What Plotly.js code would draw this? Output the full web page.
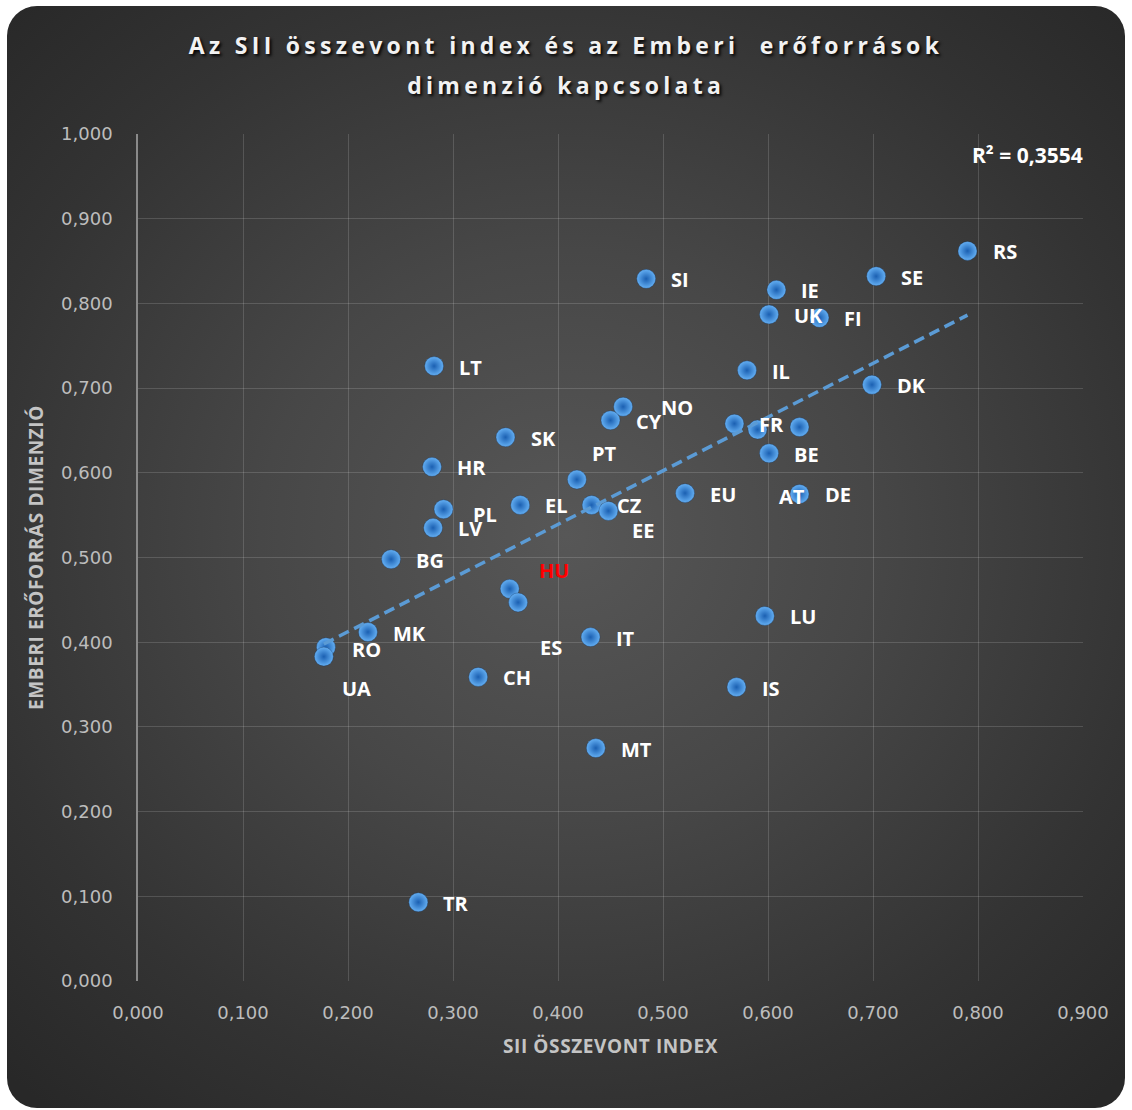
<!DOCTYPE html>
<html>
<head>
<meta charset="utf-8">
<script src="https://cdn.plot.ly/plotly-3.0.1.min.js"></script>
<style>
  html, body { margin: 0; padding: 0; background: #ffffff; }
  #frame {
    position: absolute; left: 7px; top: 6px; width: 1118px; height: 1102px;
    border-radius: 30px; overflow: hidden;
    background: radial-gradient(ellipse 72% 68% at 50% 48%, #575757 0%, #474747 38%, #333333 75%, #282828 100%);
  }
  #chart { position: absolute; left: -7px; top: -6px; width: 1132px; height: 1110px; }
  .gtitle, .annotation[data-index="0"] .annotation-text { letter-spacing: 4.3px; }
  .xtitle, .ytitle { letter-spacing: 0.6px; }
</style>
</head>
<body>
<div id="frame"><div id="chart"></div></div>
<script>
// Country codes with their SII composite index (x) and human resources dimension (y)
const countries = ['RS','SE','SI','IE','UK','FI','LT','IL','DK','NO','CY','SK','FR','AT','NL','BE','HR','PT','EU',
                   'DE','PL','EL','CZ','EE','LV','BG','HU','ES','LU','IT','MK','RO','UA','CH','IS','MT','TR'];
const siiIndex = [0.790, 0.703, 0.484, 0.608, 0.601, 0.649, 0.282, 0.580, 0.699, 0.462, 0.450, 0.350, 0.568, 0.590, 0.630, 0.601, 0.280, 0.418, 0.521,
                  0.630, 0.291, 0.364, 0.432, 0.448, 0.281, 0.241, 0.354, 0.362, 0.597, 0.431, 0.219, 0.179, 0.177, 0.324, 0.570, 0.436, 0.267];
const humanResources = [0.862, 0.832, 0.829, 0.816, 0.787, 0.783, 0.726, 0.721, 0.704, 0.678, 0.662, 0.642, 0.658, 0.651, 0.654, 0.623, 0.607, 0.592, 0.576,
                        0.575, 0.557, 0.562, 0.562, 0.555, 0.535, 0.498, 0.463, 0.447, 0.431, 0.406, 0.412, 0.394, 0.383, 0.359, 0.347, 0.275, 0.093];
const rSquared = 0.3554;
const highlighted = 'HU';
const titleLines = ['Az SII összevont index és az Emberi \u00a0erőforrások', 'dimenzió kapcsolata'];

// Least-squares linear trend computed from the data
const n = siiIndex.length;
const meanX = siiIndex.reduce((a, b) => a + b, 0) / n;
const meanY = humanResources.reduce((a, b) => a + b, 0) / n;
let sxy = 0, sxx = 0;
for (let i = 0; i < n; i++) {
  sxy += (siiIndex[i] - meanX) * (humanResources[i] - meanY);
  sxx += (siiIndex[i] - meanX) ** 2;
}
const slope = sxy / sxx;
const intercept = meanY - slope * meanX;
const trendX = [Math.min(...siiIndex), Math.max(...siiIndex)];
const trendY = trendX.map(x => intercept + slope * x);

// Label placement (pixel offsets from each marker); most labels sit to the right
const defaultShift = [25, 1];
const labelShift = {
  NO: [38, 1], PT: [15, -26], PL: [29, 5], EE: [24, 20], AT: [21, 67],
  HU: [29, -18], ES: [22, 45], UA: [18, 32], RO: [26, 2]
};
const unlabeled = ['NL'];

const titleFont = { family: 'Open Sans, sans-serif', size: 23, color: '#f2f2f2', weight: 700,
                    shadow: '2px 2px 3px rgba(0,0,0,0.9)' };
const labelFont = { family: 'Open Sans, sans-serif', size: 20, color: '#ffffff', weight: 700 };

// Second title line (kept first so its index stays fixed for styling)
const annotations = [{
  x: (566 - 138) / 945, y: 1 + (134 - 85) / 847, xref: 'paper', yref: 'paper',
  xanchor: 'center', yanchor: 'middle', showarrow: false,
  text: titleLines[1], font: titleFont
}];

countries.forEach((c, i) => {
  if (unlabeled.includes(c)) return;
  const s = labelShift[c] || defaultShift;
  annotations.push({
    x: siiIndex[i], y: humanResources[i], xref: 'x', yref: 'y',
    text: c, showarrow: false, xanchor: 'left', yanchor: 'middle',
    xshift: s[0] - 2, yshift: -s[1],
    font: Object.assign({}, labelFont, { color: c === highlighted ? '#ff0000' : '#ffffff' })
  });
});
annotations.push({
  x: 1, y: 1, xref: 'paper', yref: 'paper', xanchor: 'right', yanchor: 'middle',
  yshift: -21, xshift: 2, showarrow: false,
  text: 'R² = ' + rSquared.toFixed(4).replace('.', ','),
  font: Object.assign({}, labelFont, { size: 21 })
});

const points = {
  type: 'scatter', mode: 'markers',
  x: siiIndex, y: humanResources, text: countries,
  marker: {
    size: 19, color: '#64aff3',
    gradient: { type: 'radial', color: '#1b60b2' },
    line: { width: 0.6, color: 'rgba(15,45,90,0.55)' }
  },
  hoverinfo: 'text+x+y'
};

const trend = {
  type: 'scatter', mode: 'lines',
  x: trendX, y: trendY,
  line: { color: '#5b9bd5', width: 3.5, dash: '11px,6px' },
  hoverinfo: 'skip'
};

const tickFont = { family: 'DejaVu Sans, sans-serif', size: 18, color: '#bdbdbd' };
const axisTitleFont = { family: 'Open Sans, sans-serif', size: 19, color: '#c4c4c4', weight: 700 };
const gridColor = 'rgba(255,255,255,0.15)';

const layout = {
  width: 1132, height: 1110,
  paper_bgcolor: 'rgba(0,0,0,0)', plot_bgcolor: 'rgba(0,0,0,0)',
  margin: { l: 138, r: 49, t: 134, b: 129 },
  separators: ', ',
  showlegend: false,
  title: {
    text: titleLines[0],
    x: 566 / 1132, xanchor: 'center', xref: 'container',
    y: 1 - 46 / 1110, yanchor: 'middle', yref: 'container',
    font: titleFont
  },
  xaxis: {
    range: [0, 0.9], tick0: 0, dtick: 0.1, tickformat: '.3f',
    showgrid: true, gridcolor: gridColor, gridwidth: 1,
    zeroline: false, showline: false, ticks: '',
    tickfont: tickFont, ticklabelstandoff: 19,
    title: { text: 'SII ÖSSZEVONT INDEX', font: axisTitleFont, standoff: 17 },
    fixedrange: true
  },
  yaxis: {
    range: [0, 1], tick0: 0, dtick: 0.1, tickformat: '.3f',
    showgrid: true, gridcolor: gridColor, gridwidth: 1,
    zeroline: false, showline: true, linecolor: '#8a8a8a', linewidth: 1.5, ticks: '',
    tickfont: tickFont, ticklabelstandoff: 20,
    title: { text: 'EMBERI ERŐFORRÁS DIMENZIÓ', font: axisTitleFont, standoff: 12 },
    fixedrange: true
  },
  annotations: annotations
};

Plotly.newPlot('chart', [points, trend], layout, { displayModeBar: false, responsive: false });
</script>
</body>
</html>
